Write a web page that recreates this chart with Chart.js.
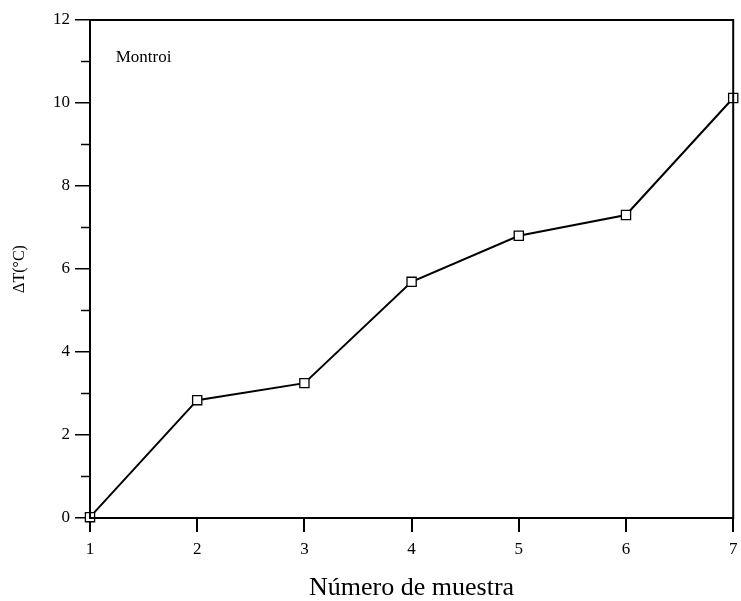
<!DOCTYPE html>
<html lang="es">
<head>
    <meta charset="UTF-8">
    <title>Montroi</title>
    <style>
        body { margin: 0; background: #fff; }
        #wrap { width: 741px; height: 601px; position: relative; }
    </style>
</head>
<body>
    <div id="wrap"><canvas id="grafico" width="741" height="601"></canvas></div>

    <script src="https://cdn.jsdelivr.net/npm/chart.js"></script>
    <script>
        // Datos
        const muestras = [1, 2, 3, 4, 5, 6, 7];
        const deltaT = [0.02, 2.84, 3.25, 5.69, 6.80, 7.30, 10.12];
        const ticksY = [0, 2, 4, 6, 8, 10, 12];
        const ticksX = [1, 2, 3, 4, 5, 6, 7];

        const serif = "'Liberation Serif', 'DejaVu Serif', serif";

        // Marco, ticks menores y etiqueta "Montroi"
        const marco = {
            id: 'marco',
            afterDraw(chart) {
                const ctx = chart.ctx;
                const a = chart.chartArea;
                const y = chart.scales.y;
                const x = chart.scales.x;
                ctx.save();
                ctx.strokeStyle = '#000';
                ctx.lineWidth = 2;
                ctx.strokeRect(a.left, a.top, a.right - a.left, a.bottom - a.top);
                ctx.lineWidth = 1.5;
                // ticks menores en Y
                for (let v = 1; v < 12; v += 2) {
                    const py = y.getPixelForValue(v);
                    ctx.beginPath();
                    ctx.moveTo(a.left - 9, py);
                    ctx.lineTo(a.left, py);
                    ctx.stroke();
                }
                ctx.fillStyle = '#000';
                ctx.font = '17px ' + serif;
                ctx.textBaseline = 'middle';
                ctx.fillText('Montroi', x.getPixelForValue(1.24), y.getPixelForValue(11.1));
                ctx.restore();
            }
        };

        const ctx = document.getElementById('grafico').getContext('2d');
        const grafico = new Chart(ctx, {
            type: 'line',
            data: {
                datasets: [{
                    data: muestras.map((m, i) => ({ x: m, y: deltaT[i] })),
                    borderColor: '#000',
                    borderWidth: 2,
                    pointStyle: 'rect',
                    pointRadius: 6.5,
                    pointBackgroundColor: '#fff',
                    pointBorderColor: '#000',
                    pointBorderWidth: 1.3,
                    clip: false,
                    tension: 0
                }]
            },
            options: {
                responsive: false,
                animation: false,
                devicePixelRatio: 1,
                layout: { padding: { left: 0, right: 1, top: 20, bottom: 0 } },
                plugins: {
                    legend: { display: false },
                    tooltip: { enabled: false }
                },
                scales: {
                    x: {
                        type: 'linear',
                        min: 1,
                        max: 7,
                        afterBuildTicks: s => { s.ticks = ticksX.map(v => ({ value: v })); },
                        afterFit: s => { s.height = 83; s.paddingLeft = 0; s.paddingRight = 0; },
                        grid: { drawOnChartArea: false, color: '#000', lineWidth: 2, tickLength: 14 },
                        border: { display: false },
                        ticks: { color: '#000', font: { family: serif, size: 17 }, padding: 7 },
                        title: {
                            display: true,
                            text: 'Número de muestra',
                            color: '#000',
                            font: { family: serif, size: 26, lineHeight: 1 },
                            padding: { top: 4, bottom: 0 }
                        }
                    },
                    y: {
                        min: 0,
                        max: 12,
                        afterBuildTicks: s => { s.ticks = ticksY.map(v => ({ value: v })); },
                        afterFit: s => { s.width = 90; s.paddingTop = 0; s.paddingBottom = 0; },
                        grid: { drawOnChartArea: false, color: '#000', lineWidth: 1.5, tickLength: 15 },
                        border: { display: false },
                        ticks: { color: '#000', font: { family: serif, size: 17 }, padding: 5 },
                        title: {
                            display: true,
                            text: 'ΔT(°C)',
                            color: '#000',
                            font: { family: serif, size: 16 },
                            padding: { top: 10, bottom: 0 }
                        }
                    }
                }
            },
            plugins: [marco]
        });
    </script>
</body>
</html>
